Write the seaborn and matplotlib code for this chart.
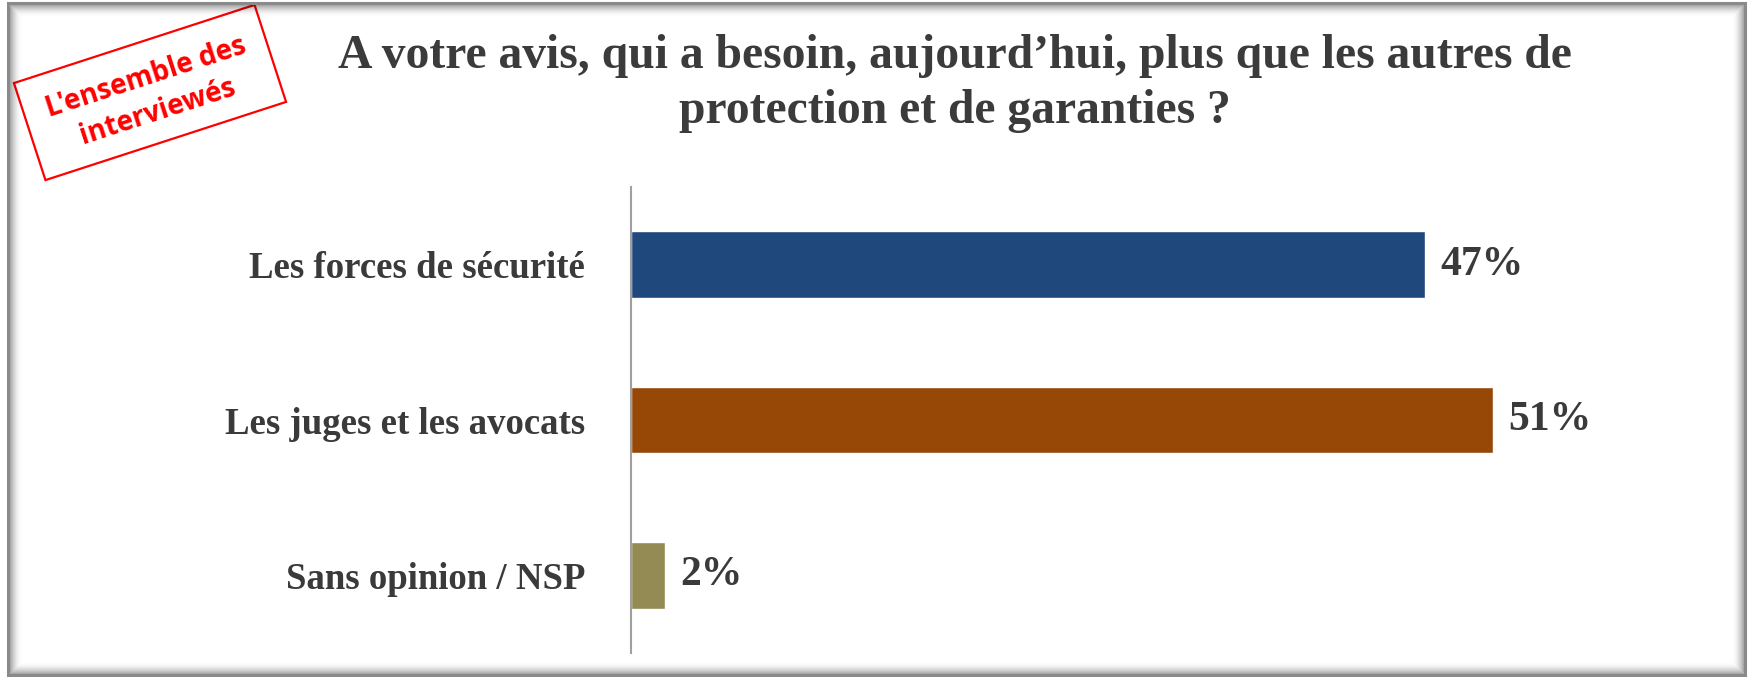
import matplotlib
matplotlib.use("Agg")
import matplotlib.pyplot as plt
import matplotlib.transforms as mtransforms
from matplotlib.patches import Rectangle
import seaborn as sns

# ---- data ----
categories = ["Les forces de sécurité", "Les juges et les avocats", "Sans opinion / NSP"]
values = [47, 51, 2]
bar_colors = ["#1F497D", "#974806", "#948A54"]
title_lines = ["A votre avis, qui a besoin, aujourd\u2019hui, plus que les autres de",
               "protection et de garanties ?"]
stamp_lines = ["L'ensemble des", "interviewés"]

W, H = 1748, 677
sns.set_style("white")
plt.rcParams["font.family"] = ["Liberation Serif", "DejaVu Serif"]

fig = plt.figure(figsize=(W / 100, H / 100), dpi=100)
fig.patch.set_facecolor("white")


def fx(px):
    return px / W


def fy(py):
    # py measured from the top of the picture
    return 1 - py / H


# plot area: axis line at x=631, from y=187 to y=653
px_per_pct = 16.9
ax = fig.add_axes([fx(631), fy(653), 60 * px_per_pct / W, (653 - 187) / H])
sns.barplot(x=values, y=categories, hue=categories, palette=bar_colors,
            orient="h", width=0.43, legend=False, ax=ax, saturation=1)
ax.set_xlim(0, 60)
ax.set_ylim(2.5, -0.5)
ax.set_xlabel("")
ax.set_ylabel("")
ax.set_xticks([])
for s in ["top", "right", "bottom"]:
    ax.spines[s].set_visible(False)
ax.spines["left"].set_color("#A0A0A0")
ax.spines["left"].set_linewidth(1.5)
ax.tick_params(axis="y", length=0, pad=33, labelsize=26.5, labelcolor="#3A3A3A")
for lab in ax.get_yticklabels():
    lab.set_fontweight("bold")
ax.patch.set_alpha(0)

for cont in ax.containers:
    ax.bar_label(cont, labels=[f"{v:.0f}%" for v in cont.datavalues], padding=11,
                 fontsize=30, fontweight="bold", color="#3A3A3A")

# title
fig.text(fx(955), fy(68), title_lines[0], ha="center", va="baseline",
         fontsize=34.3, fontweight="bold", color="#3B3B3B")
fig.text(fx(955), fy(123), title_lines[1], ha="center", va="baseline",
         fontsize=34.3, fontweight="bold", color="#3B3B3B")

# red stamp, rotated ~18 degrees
cx, cy = 150, 92.5
bw, bh = 253, 102
rot = mtransforms.Affine2D().rotate_deg_around(cx, H - cy, 18)
stamp = Rectangle((cx - bw / 2, H - cy - bh / 2), bw, bh, fill=False,
                  edgecolor="#FF0000", linewidth=1.6,
                  transform=rot + mtransforms.IdentityTransform())
fig.add_artist(stamp)
fig.text(fx(cx + 2), fy(cy + 2), "\n".join(stamp_lines), ha="center", va="center",
         rotation=18, rotation_mode="anchor", fontsize=20, fontweight="bold",
         color="#FF0000", family=["Open Sans", "DejaVu Sans"], linespacing=1.3)

# grey frame with soft inner shadow
x0, y0, x1, y1 = 8, 3, 1745, 675
for i in range(14):
    a = 0.35 * (1 - i / 14) ** 2
    fig.add_artist(Rectangle((fx(x0 + i), fy(y1 - i)), fx(x1 - x0 - 2 * i), (y1 - y0 - 2 * i) / H,
                             fill=False, edgecolor="black", alpha=a, linewidth=1,
                             transform=fig.transFigure))
fig.add_artist(Rectangle((fx(x0), fy(y1)), fx(x1 - x0), (y1 - y0) / H, fill=False,
                         edgecolor="#8A8A8A", linewidth=2.2, transform=fig.transFigure))

fig.savefig("out.png", dpi=100, facecolor="white")
